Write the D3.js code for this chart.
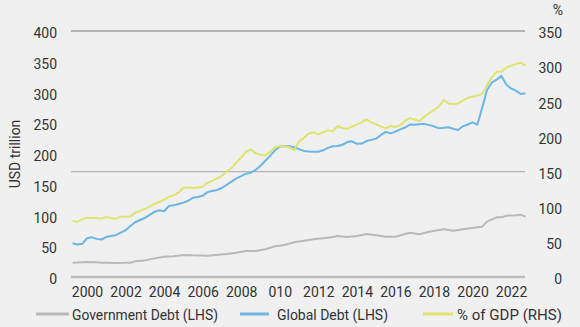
<!DOCTYPE html>
<html>
<head>
<meta charset="utf-8">
<script src="https://cdn.jsdelivr.net/npm/d3@7"></script>
<style>
  body { margin: 0; background: #f0f0f0; }
  svg { display: block; }
  text { font-family: Roboto, "Liberation Sans", sans-serif; fill: #333; }
</style>
</head>
<body>
<div id="chart"></div>
<script>
// Quarterly readings: [year, value]
const govDebt = [
  [1999.25, 23.3], [1999.5, 23.5], [2000, 24.4], [2000.5, 23.8], [2000.75, 23.3], [2001, 23.2],
  [2001.5, 22.8], [2002, 23], [2002.25, 23.3], [2002.5, 25.5], [2003, 27], [2003.5, 30.3],
  [2004, 33], [2004.5, 33.6], [2005, 35.8], [2005.5, 35.2], [2006, 35], [2006.25, 34.7],
  [2007.25, 37.4], [2007.75, 39.6], [2008.25, 42.3], [2008.75, 42.3], [2009.25, 45], [2009.75, 50],
  [2010.25, 52], [2010.75, 56.4], [2011.25, 59], [2011.75, 61.3], [2012.25, 63], [2012.75, 65],
  [2013, 66.7], [2013.5, 65], [2014, 66.7], [2014.5, 70], [2015, 67.8], [2015.5, 65.5],
  [2016, 65.5], [2016.5, 70], [2016.75, 72], [2017.25, 69.4], [2017.75, 73.7], [2018.5, 77.5],
  [2019, 75.3], [2019.75, 79], [2020.5, 81.8], [2020.75, 90], [2021.25, 97], [2021.5, 97],
  [2021.75, 99.7], [2022.25, 100.5], [2022.5, 101.3], [2022.75, 98]
];

const globalDebt = [
  [1999.25, 54.8], [1999.5, 53], [1999.75, 54], [2000, 63], [2000.25, 64.5], [2000.5, 62],
  [2000.75, 61], [2001, 65], [2001.25, 66.7], [2001.5, 68], [2001.75, 72], [2002, 76],
  [2002.25, 83], [2002.5, 89], [2002.75, 92.7], [2003, 96], [2003.25, 101], [2003.5, 106],
  [2003.75, 108.4], [2004, 107], [2004.25, 115.4], [2004.5, 116.5], [2004.75, 118.7], [2005, 121],
  [2005.25, 124], [2005.5, 129], [2005.75, 130], [2006, 132], [2006.25, 138], [2006.5, 140],
  [2006.75, 141.5], [2007, 144.7], [2007.25, 150], [2007.5, 155], [2007.75, 160.5], [2008, 164],
  [2008.25, 168], [2008.5, 169.6], [2008.75, 174], [2009, 181], [2009.25, 189], [2009.5, 197],
  [2009.75, 206], [2010, 212], [2010.25, 213], [2010.5, 212.5], [2010.75, 211], [2011, 208],
  [2011.25, 205], [2011.5, 204], [2011.75, 203.7], [2012, 203.7], [2012.25, 206], [2012.5, 210],
  [2012.75, 212.5], [2013, 213], [2013.25, 215], [2013.5, 219.5], [2013.75, 220.6], [2014, 216.5],
  [2014.25, 217], [2014.5, 221], [2014.75, 223], [2015, 225], [2015.25, 231], [2015.5, 236],
  [2015.75, 233.6], [2016, 236.3], [2016.25, 240], [2016.5, 243], [2016.75, 248], [2017, 247.7],
  [2017.25, 248.5], [2017.5, 249], [2017.75, 247], [2018, 245], [2018.25, 241.7], [2018.5, 242.5],
  [2018.75, 243.4], [2019, 241], [2019.25, 239], [2019.5, 245], [2019.75, 248], [2020, 251.5],
  [2020.25, 247.6], [2020.5, 275], [2020.75, 304], [2021, 316], [2021.25, 321], [2021.5, 327],
  [2021.75, 313], [2022, 306.5], [2022.25, 303], [2022.5, 297.5], [2022.75, 298.7]
];

const gdpPct = [
  [1999.25, 80], [1999.5, 78.7], [1999.75, 82], [2000, 84], [2000.25, 84], [2000.5, 84],
  [2000.75, 83], [2001, 85.4], [2001.25, 84], [2001.5, 83], [2001.75, 85.8], [2002, 85.8],
  [2002.25, 86], [2002.5, 91.5], [2002.75, 94], [2003, 96.7], [2003.25, 100], [2003.5, 103.9],
  [2003.75, 106.7], [2004, 110], [2004.25, 114], [2004.5, 116.5], [2004.75, 120], [2005, 127],
  [2005.25, 127.3], [2005.5, 127], [2005.75, 127.5], [2006, 128.5], [2006.25, 134], [2006.5, 137],
  [2006.75, 140.4], [2007, 144], [2007.25, 150], [2007.5, 155], [2007.75, 163], [2008, 170],
  [2008.25, 178], [2008.5, 181.7], [2008.75, 176], [2009, 174], [2009.25, 173], [2009.5, 178],
  [2009.75, 184.5], [2010, 186], [2010.25, 186], [2010.5, 184.5], [2010.75, 180.7], [2011, 193],
  [2011.25, 198], [2011.5, 204], [2011.75, 206], [2012, 203], [2012.25, 206], [2012.5, 209],
  [2012.75, 207], [2013, 214.8], [2013.25, 212], [2013.5, 210.6], [2013.75, 214], [2014, 217.2],
  [2014.25, 220], [2014.5, 224.3], [2014.75, 220], [2015, 217.2], [2015.25, 214], [2015.5, 211.5],
  [2015.75, 214.8], [2016, 213.4], [2016.25, 216], [2016.5, 222], [2016.75, 226], [2017, 224],
  [2017.25, 222], [2017.5, 228], [2017.75, 233], [2018, 237.6], [2018.25, 242.3], [2018.5, 251.8],
  [2018.75, 247], [2019, 246], [2019.25, 247], [2019.5, 250.8], [2019.75, 255], [2020, 256.5],
  [2020.25, 258], [2020.5, 260.4], [2020.75, 273], [2021, 284], [2021.25, 292], [2021.5, 292],
  [2021.75, 297.8], [2022, 300.6], [2022.25, 303], [2022.5, 304.8], [2022.75, 300.6]
];

const yearTicks = [2000, 2002, 2004, 2006, 2008, 2010, 2012, 2014, 2016, 2018, 2020, 2022];
const yearLabels = ["2000", "2002", "2004", "2006", "2008", "010", "2012", "2014", "2016", "2018", "2020", "2022"];
const leftTicks = [0, 50, 100, 150, 200, 250, 300, 350, 400];
const rightTicks = [0, 50, 100, 150, 200, 250, 300, 350];
const gridTicks = [150, 350];

const svgWidth = 580;
const svgHeight = 327;
const fontSize = "14px";

const plot = { left: 71, right: 524, top: 31, bottom: 277 };

const svg = d3.select("#chart")
  .append("svg")
  .attr("width", svgWidth)
  .attr("height", svgHeight);

const x = d3.scaleLinear()
  .domain([1999.17, 2022.67])
  .range([plot.left, plot.right]);

const yLeft = d3.scaleLinear()
  .domain([0, 400])
  .range([plot.bottom, plot.top]);

const yRight = d3.scaleLinear()
  .domain([0, 350])
  .range([plot.bottom, plot.top]);

// horizontal gridlines (right-hand scale)
svg.selectAll("line.grid")
  .data(gridTicks)
  .enter()
  .append("line")
  .attr("class", "grid")
  .attr("x1", plot.left)
  .attr("x2", plot.right + 1)
  .attr("y1", d => yRight(d))
  .attr("y2", d => yRight(d))
  .attr("stroke", "#b4b4b4")
  .attr("stroke-width", d => d === 350 ? 2 : 1.2);

// baseline
svg.append("line")
  .attr("x1", plot.left)
  .attr("x2", plot.right + 1)
  .attr("y1", plot.bottom)
  .attr("y2", plot.bottom)
  .attr("stroke", "#bdbdbd")
  .attr("stroke-width", 2.5);

// left axis
const leftAxis = svg.append("g")
  .attr("transform", "translate(57,0)")
  .call(d3.axisLeft(yLeft).tickValues(leftTicks).tickSize(0).tickPadding(0));
leftAxis.select(".domain").remove();

// right axis
const rightAxis = svg.append("g")
  .attr("transform", "translate(562,0)")
  .call(d3.axisRight(yRight).tickValues(rightTicks).tickSize(0).tickPadding(0));
rightAxis.select(".domain").remove();
rightAxis.selectAll("text").attr("text-anchor", "end");

// bottom axis
const bottomAxis = svg.append("g")
  .attr("transform", `translate(0, ${plot.bottom})`)
  .call(d3.axisBottom(x).tickValues(yearTicks).tickSize(0).tickPadding(10)
    .tickFormat((d, i) => yearLabels[i]));
bottomAxis.select(".domain").remove();

svg.selectAll(".tick text")
  .style("font-size", fontSize)
  .attr("fill", "#333");
leftAxis.selectAll("text").attr("dy", "0.48em");
rightAxis.selectAll("text").attr("dy", "0.48em");

// series lines
const line = scale => d3.line()
  .x(d => x(d[0]))
  .y(d => scale(d[1]));

const series = [
  { data: govDebt, scale: yLeft, color: "#b9b9b9" },
  { data: globalDebt, scale: yLeft, color: "#6cb6e6" },
  { data: gdpPct, scale: yRight, color: "#dfe36f" }
];

series.forEach(s => {
  svg.append("path")
    .datum(s.data)
    .attr("fill", "none")
    .attr("stroke", s.color)
    .attr("stroke-width", 2)
    .attr("stroke-linejoin", "round")
    .attr("d", line(s.scale));
});

// axis titles
svg.append("text")
  .attr("transform", "translate(19.5,154) rotate(-90)")
  .attr("text-anchor", "middle")
  .style("font-size", fontSize)
  .text("USD trillion");

svg.append("text")
  .attr("x", 563)
  .attr("y", 15)
  .attr("text-anchor", "end")
  .style("font-size", fontSize)
  .text("%");

// legend
const legendItems = [
  { label: "Government Debt (LHS)", color: "#b9b9b9", x1: 36, x2: 69, tx: 72, w: 146 },
  { label: "Global Debt (LHS)", color: "#6cb6e6", x1: 240, x2: 269, tx: 277, w: 111 },
  { label: "% of GDP (RHS)", color: "#dfe36f", x1: 423, x2: 453, tx: 457, w: 105 }
];

const legend = svg.append("g");
legendItems.forEach(d => {
  legend.append("line")
    .attr("x1", d.x1)
    .attr("x2", d.x2)
    .attr("y1", 314)
    .attr("y2", 314)
    .attr("stroke", d.color)
    .attr("stroke-width", 3);
  legend.append("text")
    .attr("x", d.tx)
    .attr("y", 320)
    .attr("textLength", d.w)
    .attr("lengthAdjust", "spacingAndGlyphs")
    .style("font-size", fontSize)
    .text(d.label);
});
</script>
</body>
</html>
